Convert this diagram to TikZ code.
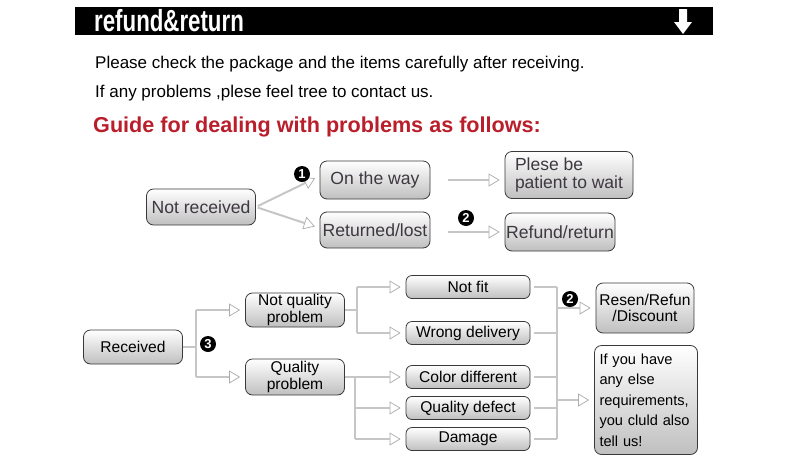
\documentclass[tikz,border=0pt]{standalone}
\usepackage{fontspec}
\setmainfont{Liberation Sans}
\usetikzlibrary{arrows.meta, positioning}
\definecolor{guidered}{RGB}{185,30,42}
\definecolor{boxtext}{RGB}{62,56,64}

\begin{document}
\begin{tikzpicture}[
    x=1pt, y=-1pt,
    >={Triangle[open, length=11pt, width=13pt, line width=0.7pt, color=gray!65, fill=white]},
    box/.style={draw=gray!45!black, line width=0.8pt, rounded corners=7pt, top color=white, bottom color=gray!50, inner sep=1pt, align=center},
    bigbox/.style={box, text=boxtext, font=\fontsize{17.6}{19}\selectfont},
    smallbox/.style={box, font=\fontsize{15.6}{16.5}\selectfont},
    link/.style={draw=gray!45, line width=2pt},
    arr/.style={link, ->, shorten >=5pt},
    num/.style={circle, fill=black, text=white, inner sep=0pt, minimum size=16pt, font=\fontsize{13}{13}\selectfont\bfseries},
    txt/.style={anchor=west, inner sep=0pt, font=\fontsize{17}{19}\selectfont},
]
\useasboundingbox (0,0) rectangle (789,466);
% === Header bar ===
\fill[black] (75,7) rectangle (713,35);
\node[anchor=west, text=white, inner sep=0pt, font=\fontsize{30.5}{30}\selectfont\bfseries] (head) at (94,21) {\scalebox{0.73}[1]{refund\&return}};
\fill[white] (679,9) -- (687,9) -- (687,22) -- (692,22) -- (683,34) -- (674,22) -- (679,22) -- cycle;
%
\node[txt] (line1) at (95,64) {Please check the package and the items carefully after receiving.};
\node[txt] (line2) at (95,93) {If any problems ,plese feel tree to contact us.};
\node[txt, text=guidered, font=\fontsize{21.6}{23}\selectfont\bfseries] (guide) at (93,127) {Guide for dealing with problems as follows:};
% === Not received ===
\node[bigbox, minimum width=109pt, minimum height=36pt] (notrec) at (201,207) {Not received};
\node[bigbox, minimum width=110pt, minimum height=38pt] (way) at (375,180) {On the way};
\node[bigbox, minimum width=110pt, minimum height=36pt] (lost) at (375,230) {Returned/lost};
\node[bigbox, minimum width=128pt, minimum height=47pt, align=left, font=\fontsize{17.5}{18}\selectfont] (wait) at (569,175) {Plese be\\patient to wait};
\node[bigbox, minimum width=110pt, minimum height=38pt] (refund) at (560,232) {Refund/return};
%
\draw[arr, shorten <=2pt] (notrec.east) -- ([yshift=4pt]way.west);
\draw[arr, shorten <=2pt] (notrec.east) -- ([yshift=2pt]lost.west);
\draw[arr, shorten <=18pt] (way.east) -- (way.east -| wait.west);
\draw[arr, shorten <=18pt] ([yshift=-2pt]lost.east) -- ([yshift=-2pt]lost.east -| refund.west);
\node[num] (n1) at (302,174) {1};
\node[num] (n2) at (466,218) {2};
% === Received ===
\node[smallbox, minimum width=99pt, minimum height=34pt] (rec) at (133,347) {Received};
\node[smallbox, minimum width=99pt, minimum height=34pt] (nq) at (295,310) {Not quality\\problem};
\node[smallbox, minimum width=99pt, minimum height=36pt] (qp) at (295,377) {Quality\\problem};
\foreach \n/\y/\t in {notfit/287/Not fit, wrong/333/Wrong delivery, color/377/Color different, defect/408/Quality defect, damage/439/Damage} {
    \node[smallbox, minimum width=124pt, minimum height=23pt, rounded corners=6pt] (\n) at (468,\y) {\t};
}
\node[smallbox, minimum width=98pt, minimum height=50pt] (resen) at (645,308) {Resen/Refun\\/Discount};
\node[smallbox, minimum width=103pt, minimum height=109pt, align=left, text width=93pt, font=\fontsize{14.6}{20.5}\selectfont] (else) at (646,400) {If you have\\any else\\requirements,\\you cluld also\\tell us!};
%
\coordinate (j1) at (196,347);
\draw[link] (rec.east) -- (j1);
\draw[link] (j1 |- nq.west) -- (j1 |- qp.west);
\draw[arr] (j1 |- nq.west) -- (nq.west);
\draw[arr] (j1 |- qp.west) -- (qp.west);
\node[num] (n3) at (208,344) {3};
%
\coordinate (j2) at (357,310);
\draw[link] (nq.east) -- (j2);
\draw[link] (j2 |- notfit.west) -- (j2 |- wrong.west);
\draw[arr] (j2 |- notfit.west) -- (notfit.west);
\draw[arr] (j2 |- wrong.west) -- (wrong.west);
%
\coordinate (j3) at (355,377);
\draw[link] (qp.east) -- (j3);
\draw[link] (j3 |- color.west) -- (j3 |- damage.west);
\foreach \n in {color, defect, damage} {
    \draw[arr] (j3 |- \n.west) -- (\n.west);
}
% === Right joint ===
\coordinate (j4) at (557,308);
\foreach \n in {notfit, wrong, color, defect, damage} {
    \draw[link, shorten <=4pt] (\n.east) -- (\n.east -| j4);
}
\draw[link] (j4 |- notfit.east) -- (j4 |- damage.east);
\draw[arr] (j4) -- (resen.west);
\draw[arr] (j4 |- else.west) -- (else.west);
\node[num] (n4) at (570,299) {2};
\end{tikzpicture}
\end{document}
